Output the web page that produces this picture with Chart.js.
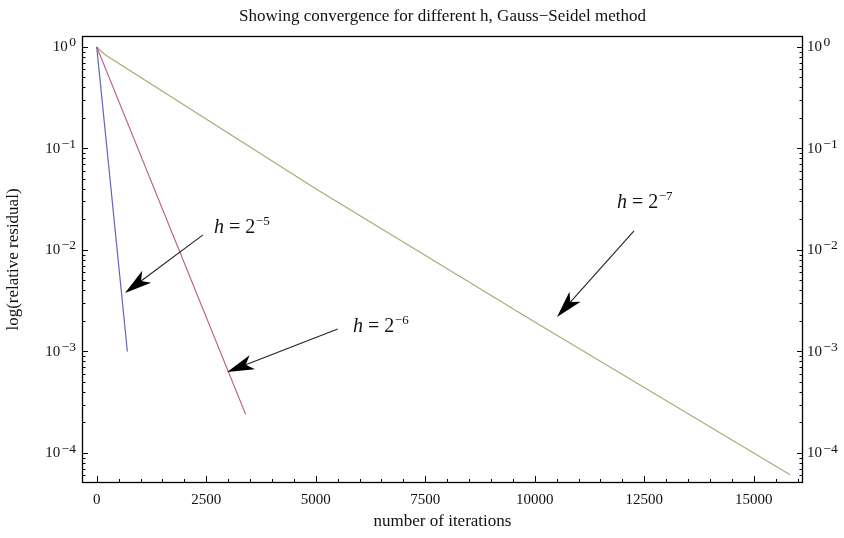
<!DOCTYPE html>
<html>
<head>
<meta charset="utf-8">
<script src="https://cdn.jsdelivr.net/npm/chart.js@4.4.1/dist/chart.umd.min.js"></script>
<style>
  html, body { margin: 0; padding: 0; background: #fff; }
  #wrap { width: 844px; height: 538px; }
</style>
</head>
<body>
<div id="wrap"><canvas id="c" width="844" height="538"></canvas></div>
<script>
// ---- data ----
const blueX  = [0, 700];
const blueY  = [1, 1e-3];
const redX   = [0, 3400];
const redY   = [1, 2.4e-4];
const oliveX = [0, 100, 200, 5000, 10000, 15830];
const oliveY = [1, 0.905, 0.83, 0.04, 1.95e-3, 6.1e-5];

const xMajorTicks = [0, 2500, 5000, 7500, 10000, 12500, 15000];
const xMinorStep = 500;
const yDecades = [0, -1, -2, -3, -4];

const titleText = 'Showing convergence for different h, Gauss\u2212Seidel method';
const xTitle = 'number of iterations';
const yTitle = 'log(relative residual)';

// annotation labels: exponent text, label anchor, arrow tail, arrow tip (data coords, y as log10)
const annExp   = ['\u22125', '\u22126', '\u22127'];
const annLabel = [[2679, -1.833], [5852, -2.808], [11877, -1.586]];
const annTail  = [[2427, -1.852], [5502, -2.778], [12267, -1.813]];
const annTip   = [[646, -2.424], [2977, -3.202], [10509, -2.660]];

const X_MIN = -336, X_MAX = 16125;
const Y_MIN = 5.06e-5, Y_MAX = 1.28;

const SERIF = '"Liberation Serif", "DejaVu Serif", serif';

function pts(xs, ys){ return xs.map((x,i)=>({x, y: ys[i]})); }

function yTickValues(){
  const v = [];
  for (let e = -5; e <= 0; e++) {
    for (let m = 1; m <= 9; m++) {
      const val = m * Math.pow(10, e);
      if (val >= Y_MIN && val <= Y_MAX) v.push(val);
    }
  }
  return v;
}
function isDecade(v){ const l = Math.log10(v); return Math.abs(l - Math.round(l)) < 1e-9; }

function xTickValues(){
  const v = [];
  for (let x = 0; x <= X_MAX; x += xMinorStep) v.push(x);
  return v;
}

function expText(e){ return e < 0 ? '\u2212' + String(-e) : String(e); }

const framePlugin = {
  id: 'frame',
  afterDatasetsDraw(chart){
    const {ctx, chartArea: a, scales} = chart;
    ctx.save();
    ctx.strokeStyle = '#000';
    ctx.lineWidth = 1.3;
    ctx.strokeRect(a.left + 0.5, a.top + 0.5, a.right - a.left - 1, a.bottom - a.top - 1);
    ctx.lineWidth = 1;
    ctx.beginPath();
    scales.x.ticks.forEach(t => {
      const px = Math.round(scales.x.getPixelForValue(t.value)) + 0.5;
      const len = xMajorTicks.includes(t.value) ? 7 : 4;
      ctx.moveTo(px, a.bottom); ctx.lineTo(px, a.bottom - len);
    });
    scales.y.ticks.forEach(t => {
      const py = Math.round(scales.y.getPixelForValue(t.value)) + 0.5;
      const len = isDecade(t.value) ? 6 : 3.5;
      ctx.moveTo(a.left, py); ctx.lineTo(a.left + len, py);
      ctx.moveTo(a.right, py); ctx.lineTo(a.right - len, py);
    });
    ctx.stroke();

    // y tick labels with real superscripts (both sides)
    ctx.fillStyle = '#111';
    ctx.textBaseline = 'middle';
    const BASE = '15px ' + SERIF, SUP = '13.5px ' + SERIF, GAP = 1.5;
    yDecades.forEach(e => {
      const py = scales.y.getPixelForValue(Math.pow(10, e));
      ctx.font = BASE;
      const wb = ctx.measureText('10').width;
      ctx.font = SUP;
      const et = expText(e);
      const we = ctx.measureText(et).width;
      ctx.textAlign = 'left';
      // left
      const xEnd = a.left - 6;
      ctx.font = BASE;
      ctx.fillText('10', xEnd - we - GAP - wb, py + 0.5);
      ctx.font = SUP;
      ctx.fillText(et, xEnd - we, py - 4);
      // right
      const xs = a.right + 4;
      ctx.font = BASE;
      ctx.fillText('10', xs, py + 0.5);
      ctx.font = SUP;
      ctx.fillText(et, xs + wb + GAP, py - 4);
    });

    // annotations
    const sx = scales.x, sy = scales.y;
    for (let i = 0; i < annExp.length; i++) {
      const tx = sx.getPixelForValue(annTail[i][0]), ty = sy.getPixelForValue(Math.pow(10, annTail[i][1]));
      const hx = sx.getPixelForValue(annTip[i][0]),  hy = sy.getPixelForValue(Math.pow(10, annTip[i][1]));
      const ang = Math.atan2(hy - ty, hx - tx);
      const L = 27, W = 7.5, N = 20;
      const bx = hx - L * Math.cos(ang), by = hy - L * Math.sin(ang);
      const nx = hx - N * Math.cos(ang), ny = hy - N * Math.sin(ang);
      ctx.strokeStyle = '#222'; ctx.lineWidth = 1.1;
      ctx.beginPath(); ctx.moveTo(tx, ty); ctx.lineTo(nx, ny); ctx.stroke();
      ctx.fillStyle = '#000';
      ctx.beginPath();
      ctx.moveTo(hx, hy);
      ctx.lineTo(bx - W * Math.sin(ang), by + W * Math.cos(ang));
      ctx.lineTo(nx, ny);
      ctx.lineTo(bx + W * Math.sin(ang), by - W * Math.cos(ang));
      ctx.closePath(); ctx.fill();

      // label
      const lx = sx.getPixelForValue(annLabel[i][0]), ly = sy.getPixelForValue(Math.pow(10, annLabel[i][1]));
      ctx.fillStyle = '#111';
      ctx.textBaseline = 'alphabetic'; ctx.textAlign = 'left';
      ctx.font = 'italic 20px ' + SERIF;
      ctx.fillText('h', lx, ly);
      let w = ctx.measureText('h').width;
      ctx.font = '20px ' + SERIF;
      const mid = ' = 2';
      ctx.fillText(mid, lx + w, ly);
      w += ctx.measureText(mid).width;
      ctx.font = '13px ' + SERIF;
      ctx.fillText(annExp[i], lx + w + 0.5, ly - 8);
    }
    ctx.restore();
  }
};

const tickFont = { family: SERIF, size: 15 };

new Chart(document.getElementById('c'), {
  type: 'line',
  data: {
    datasets: [
      { data: pts(blueX, blueY),   borderColor: 'rgb(100,100,190)', borderWidth: 1.2 },
      { data: pts(redX, redY),     borderColor: 'rgb(180,95,135)',  borderWidth: 1.2 },
      { data: pts(oliveX, oliveY), borderColor: 'rgb(175,170,120)', borderWidth: 1.3 }
    ]
  },
  options: {
    responsive: false,
    animation: false,
    elements: { point: { radius: 0 }, line: { tension: 0 } },
    layout: { padding: { left: 0, right: 0, top: 0, bottom: 0 } },
    plugins: {
      legend: { display: false },
      tooltip: { enabled: false },
      title: {
        display: true, text: titleText, fullSize: false,
        color: '#111', font: { family: SERIF, size: 17, weight: 'normal' },
        padding: { top: 6.3, bottom: 9.3 }
      }
    },
    scales: {
      x: {
        type: 'linear', position: 'bottom', min: X_MIN, max: X_MAX,
        afterBuildTicks: s => { s.ticks = xTickValues().map(v => ({ value: v })); },
        afterFit: s => { s.height = 55; },
        grid: { display: false, drawTicks: false },
        border: { display: false },
        ticks: {
          autoSkip: false, maxRotation: 0, padding: 8, color: '#111', font: tickFont,
          callback: v => xMajorTicks.includes(v) ? String(v) : ''
        },
        title: { display: true, text: xTitle, color: '#111', font: { family: SERIF, size: 17 }, padding: { top: 0, bottom: 5.8 } }
      },
      y: {
        type: 'logarithmic', position: 'left', min: Y_MIN, max: Y_MAX,
        afterBuildTicks: s => { s.ticks = yTickValues().map(v => ({ value: v })); },
        afterFit: s => { s.width = 82; },
        grid: { display: false, drawTicks: false },
        border: { display: false },
        ticks: { autoSkip: false, padding: 5, font: tickFont, callback: () => '' },
        title: { display: true, text: yTitle, color: '#111', font: { family: SERIF, size: 17 }, padding: { top: 3.8, bottom: 0 } }
      },
      y2: {
        type: 'logarithmic', position: 'right', min: Y_MIN, max: Y_MAX,
        afterBuildTicks: s => { s.ticks = yTickValues().map(v => ({ value: v })); },
        afterFit: s => { s.width = 41; },
        grid: { display: false, drawTicks: false },
        border: { display: false },
        ticks: { autoSkip: false, padding: 4, font: tickFont, callback: () => '' }
      }
    }
  },
  plugins: [framePlugin]
});
</script>
</body>
</html>
